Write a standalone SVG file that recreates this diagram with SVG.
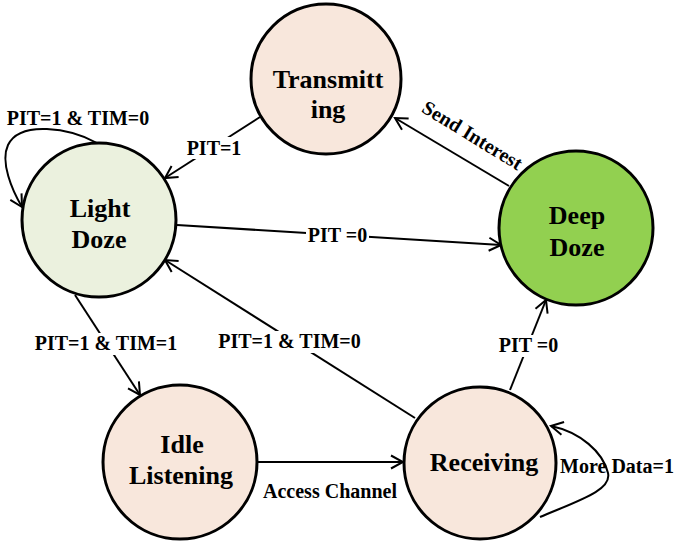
<svg xmlns="http://www.w3.org/2000/svg" width="676" height="547" viewBox="0 0 676 547">
<defs>
<style>
.node{stroke:#000;stroke-width:3}
.peach{fill:#F8E7DC}
.nt{font-family:"Liberation Serif","Times New Roman",serif;font-weight:bold;font-size:26px;text-anchor:middle;fill:#000}
.lt{font-family:"Liberation Serif","Times New Roman",serif;font-weight:bold;font-size:20px;text-anchor:middle;fill:#000}
.edge{fill:none;stroke:#000;stroke-width:2;marker-end:url(#arr)}
.bg{fill:#fff}
</style>
<marker id="arr" viewBox="-14 -8 16 16" refX="0" refY="0" markerWidth="16" markerHeight="16" markerUnits="userSpaceOnUse" orient="auto">
<path d="M-12,-6.5 L0,0 L-12,6.5" fill="none" stroke="#000" stroke-width="2"/>
</marker>
</defs>
<rect width="676" height="547" fill="#fff"/>
<g id="connectors">
<path id="e-ld-self" class="edge" d="M97,143 C70,128 20,120 8,145 C0,162 12,190 22,207"/>
<path id="e-tx-ld" class="edge" d="M260,117 L165,178"/>
<path id="e-ld-dd" class="edge" d="M177,225 L501,245"/>
<path id="e-dd-tx" class="edge" d="M509,186 L395,118"/>
<path id="e-ld-il" class="edge" d="M75,295 L140,395"/>
<path id="e-rx-ld" class="edge" d="M415,418 L165,260"/>
<path id="e-il-rx" class="edge" d="M258,462 L403,462"/>
<path id="e-rx-dd" class="edge" d="M510,390 L546,300"/>
<path id="e-rx-self" class="edge" d="M540,517 C580,500 612,490 608,473 C603,452 580,432 551,426"/>
</g>
<g id="labels">
<text class="lt" x="78" y="125">PIT=1 &amp; TIM=0</text>
<rect class="bg" x="187" y="137" width="54" height="22"/>
<text class="lt" x="214" y="155">PIT=1</text>
<rect class="bg" x="306" y="224" width="63" height="22"/>
<text class="lt" x="337.5" y="242">PIT =0</text>
<text class="lt" transform="translate(469,141) rotate(31.5)">Send Interest</text>
<rect class="bg" x="34" y="333" width="144" height="22"/>
<text class="lt" x="106" y="350">PIT=1 &amp; TIM=1</text>
<rect class="bg" x="217" y="331" width="145" height="22"/>
<text class="lt" x="289.5" y="348">PIT=1 &amp; TIM=0</text>
<text class="lt" x="330" y="498">Access Channel</text>
<rect class="bg" x="497" y="335" width="63" height="22"/>
<text class="lt" x="528.5" y="352">PIT =0</text>
<text class="lt" x="617" y="473">More Data=1</text>
</g>
<g id="transmitting">
<circle class="node peach" cx="326" cy="79" r="75"/>
<text class="nt" x="328" y="88">Transmitt</text>
<text class="nt" x="328" y="118">ing</text>
</g>
<g id="light-doze">
<circle class="node" cx="99" cy="220" r="77" fill="#EBF1DE"/>
<text class="nt" x="100" y="217">Light</text>
<text class="nt" x="99" y="248">Doze</text>
</g>
<g id="deep-doze">
<circle class="node" cx="576" cy="228" r="77" fill="#92D050"/>
<text class="nt" x="577" y="224">Deep</text>
<text class="nt" x="577" y="256">Doze</text>
</g>
<g id="idle-listening">
<circle class="node peach" cx="180" cy="462" r="77"/>
<text class="nt" x="182" y="453">Idle</text>
<text class="nt" x="181" y="484">Listening</text>
</g>
<g id="receiving">
<circle class="node peach" cx="480" cy="463" r="76"/>
<text class="nt" x="484" y="471">Receiving</text>
</g>
</svg>
